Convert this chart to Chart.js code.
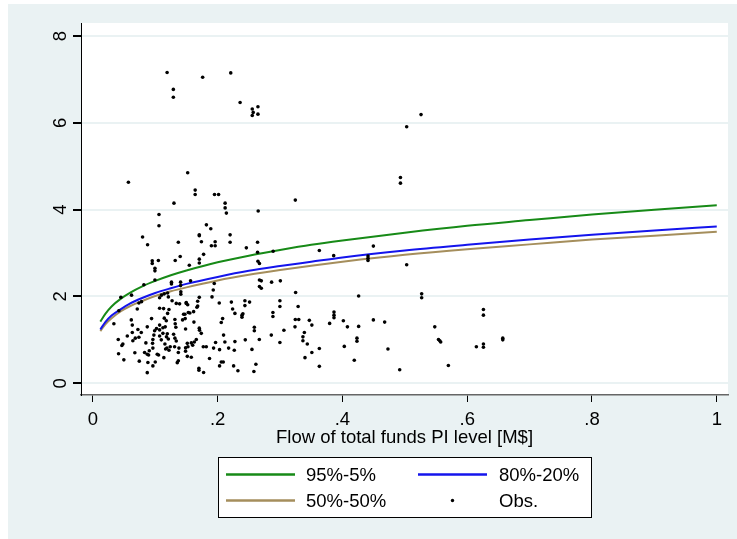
<!DOCTYPE html>
<html>
<head>
<meta charset="utf-8">
<script src="https://cdn.jsdelivr.net/npm/chart.js@4"></script>
<style>
  html, body { margin: 0; padding: 0; background: #fff; }
  #wrap { width: 737px; height: 539px; }
</style>
</head>
<body>
<div id="wrap"><canvas id="chart" width="737" height="539"></canvas></div>
<script>
(function () {
    'use strict';

    // ── Data ─────────────────────────────────────────────────────────
    var curveX = [0.012, 0.02, 0.03, 0.045, 0.06, 0.08, 0.1, 0.125, 0.15, 0.2, 0.25, 0.3, 0.35, 0.4, 0.5, 0.6, 0.7, 0.8, 0.9, 1.0];
    var curve95 = [1.42, 1.60, 1.77, 1.95, 2.09, 2.24, 2.36, 2.49, 2.60, 2.79, 2.94, 3.07, 3.19, 3.29, 3.47, 3.63, 3.76, 3.89, 4.00, 4.10];
    var curve80 = [1.24, 1.41, 1.56, 1.71, 1.84, 1.97, 2.08, 2.19, 2.29, 2.45, 2.59, 2.70, 2.80, 2.90, 3.06, 3.19, 3.31, 3.42, 3.52, 3.61];
    var curve50 = [1.20, 1.36, 1.50, 1.66, 1.78, 1.90, 2.01, 2.12, 2.21, 2.37, 2.50, 2.61, 2.71, 2.80, 2.96, 3.09, 3.20, 3.31, 3.40, 3.49];

    var obsX = [
        0.119, 0.176, 0.221, 0.129, 0.129, 0.236, 0.2555, 0.257, 0.2555, 0.2646, 0.2646,
        0.057, 0.152, 0.164, 0.164, 0.195, 0.2015, 0.130, 0.212, 0.212, 0.214, 0.265, 0.3245,
        0.106, 0.106, 0.182, 0.189,
        0.526, 0.503, 0.493, 0.493, 0.363, 0.386, 0.4496, 0.441, 0.441, 0.441, 0.503, 0.426, 0.527, 0.527,
        0.351, 0.347, 0.351, 0.363, 0.363, 0.3795, 0.3865, 0.3865, 0.3865, 0.4015, 0.408, 0.403, 0.419,
        0.4233, 0.4233, 0.426, 0.4496, 0.4677, 0.473, 0.4918, 0.548, 0.554, 0.556, 0.5575, 0.5698, 0.6147,
        0.626, 0.626, 0.626, 0.626, 0.657, 0.657, 0.339,
        0.0797, 0.0877, 0.137, 0.1706, 0.1706, 0.174, 0.196, 0.196, 0.190, 0.220, 0.220, 0.246, 0.264, 0.264, 0.289,
        0.140, 0.132, 0.0952, 0.0952, 0.105, 0.0995, 0.0995, 0.1546, 0.1706, 0.1706, 0.1775, 0.2646, 0.267,
        0.267, 0.27, 0.267, 0.27, 0.2865, 0.3005, 0.0995, 0.0818, 0.0449, 0.0417, 0.062, 0.0738, 0.078, 0.0712,
        0.0337, 0.0616, 0.0632, 0.0941,
        0.107, 0.110, 0.1145, 0.1198, 0.121, 0.126, 0.126, 0.1406, 0.1406, 0.141, 0.141, 0.1566,
        0.127, 0.1337, 0.139, 0.1497, 0.1497, 0.152, 0.107, 0.1134, 0.122, 0.1454, 0.1475, 0.153, 0.1555, 0.1615,
        0.1706, 0.168, 0.168, 0.1668,
        0.193, 0.1946, 0.191, 0.2026, 0.222, 0.224, 0.2277, 0.239, 0.239, 0.2437, 0.2437, 0.2512, 0.2405,
        0.162, 0.1706, 0.171, 0.1738, 0.1658, 0.1626, 0.1578, 0.160, 0.1514, 0.1524, 0.1578, 0.1486, 0.1486, 0.1514,
        0.138, 0.137, 0.137, 0.1353, 0.131, 0.124, 0.1187, 0.122, 0.1155, 0.1166, 0.1138, 0.1097, 0.107, 0.1123,
        0.1193, 0.118, 0.121, 0.1294, 0.1315, 0.1337, 0.1123, 0.116, 0.107, 0.107, 0.102, 0.099, 0.0978, 0.0962,
        0.0957, 0.0962, 0.1032, 0.1053, 0.100, 0.0962, 0.0882, 0.0872, 0.0893, 0.0904, 0.0872, 0.0744, 0.0829, 0.085,
        0.0872, 0.0776, 0.0722, 0.0738, 0.068, 0.0552, 0.0481, 0.0465, 0.0407, 0.0412, 0.0497, 0.0673, 0.0632, 0.0641,
        0.1145, 0.1177, 0.1198, 0.1315, 0.132, 0.133, 0.1438, 0.148, 0.1486,
        0.1818, 0.177, 0.1935, 0.187, 0.1967, 0.2031, 0.2058, 0.209, 0.2031, 0.2095, 0.208, 0.2058, 0.2116, 0.2176,
        0.2277, 0.2267, 0.2256, 0.2325, 0.2443, 0.255, 0.2588, 0.2588, 0.2668, 0.2613, 0.2581, 0.286, 0.2998,
        0.2886, 0.2886, 0.2998, 0.2998, 0.3062, 0.3245, 0.324, 0.330, 0.325, 0.329, 0.3367, 0.3367, 0.340, 0.3437,
        0.170, 0.170, 0.1775
    ];
    var obsY = [
        7.16, 7.05, 7.15, 6.77, 6.59, 6.47, 6.32, 6.24, 6.17, 6.37, 6.20,
        4.63, 4.85, 4.45, 4.35, 4.35, 4.35, 4.15, 4.15, 4.04, 3.92, 3.97, 4.22,
        3.89, 3.63, 3.65, 3.56,
        6.19, 5.91, 4.74, 4.61, 3.06, 2.94, 3.16, 2.93, 2.88, 2.83, 2.73, 2.01, 2.06, 1.97,
        1.34, 1.45, 0.71, 0.80, 0.39, 1.38, 1.64, 1.57, 1.51, 1.44, 1.30, 0.85, 0.53,
        1.04, 0.97, 1.31, 1.46, 1.41, 0.79, 0.31, 1.30, 1.01, 0.98, 0.95, 0.41, 0.84,
        1.70, 1.57, 0.905, 0.83, 1.04, 1.00, 1.17,
        3.37, 3.19, 3.25, 3.42, 3.40, 3.26, 3.26, 3.17, 3.17, 3.42, 3.25, 3.12, 3.25, 3.02, 3.04,
        2.92, 2.83, 2.82, 2.76, 2.83, 2.65, 2.59, 2.72, 2.86, 2.77, 2.97, 2.81, 2.76,
        2.38, 2.36, 2.23, 2.19, 2.33, 2.36, 2.38, 2.27, 1.98, 1.67, 2.03, 1.85, 1.88, 1.71,
        1.37, 1.46, 1.34, 1.49,
        1.97, 2.03, 2.06, 2.08, 1.99, 2.33, 2.29, 2.33, 2.25, 2.11, 2.05, 2.36,
        1.90, 1.84, 1.83, 1.84, 1.86, 1.81, 1.73, 1.72, 1.70, 1.59, 1.59, 1.63, 1.62, 1.65,
        1.98, 1.89, 1.78, 1.75,
        2.15, 2.30, 1.99, 1.85, 1.87, 1.71, 1.61, 1.57, 1.52, 1.90, 1.79, 1.87, 1.60,
        1.41, 1.27, 1.22, 1.15, 1.01, 0.95, 0.93, 0.875, 0.92, 0.84, 0.60, 0.82, 0.74, 0.62,
        0.81, 0.71, 0.52, 0.475, 0.84, 0.84, 0.81, 0.76, 0.905, 0.79, 0.59, 1.00, 1.09, 1.15,
        1.14, 1.07, 1.02, 1.13, 1.04, 0.975, 1.28, 1.30, 1.34, 1.23, 1.26, 1.21, 1.11, 1.01,
        0.92, 0.81, 0.67, 0.65, 0.49, 0.40, 0.48, 0.67, 0.65, 0.75, 0.245, 0.51, 0.71, 0.93,
        1.30, 1.17, 1.24, 1.06, 1.04, 1.09, 0.905, 0.87, 1.01, 0.68, 0.54, 0.705, 1.17, 0.98,
        1.50, 1.44, 1.61, 1.47, 1.37, 1.29, 1.46, 1.49, 1.25,
        0.84, 0.84, 0.81, 0.57, 0.94, 0.775, 0.49, 0.49, 0.40, 1.11, 1.49, 1.40, 0.95, 0.81,
        0.96, 0.76, 0.40, 0.29, 1.00, 0.78, 1.29, 1.21, 1.01, 0.44, 0.27, 1.11, 0.94,
        1.63, 1.54, 1.90, 1.77, 1.22, 1.47, 1.30, 1.47, 2.09, 1.77, 1.07, 0.98, 0.59, 0.905,
        0.345, 0.30, 0.25
    ];

    var xTicks = [0, 0.2, 0.4, 0.6, 0.8, 1];
    var xTickLabels = ['0', '.2', '.4', '.6', '.8', '1'];
    var yTicks = [0, 2, 4, 6, 8];
    var yTickLabels = ['0', '2', '4', '6', '8'];
    var xTitle = 'Flow of total funds PI level [M$]';
    var seriesLabels = ['95%-5%', '80%-20%', '50%-50%', 'Obs.'];
    var seriesColors = ['#178a17', '#1414ec', '#a58e5c', '#000000'];

    var FONT = '18.5px "Liberation Sans", Arial, sans-serif';

    // ── Helpers ──────────────────────────────────────────────────────
    function pairs(xs, ys) {
        return xs.map(function (x, i) { return { x: x, y: ys[i] }; });
    }

    function lineSet(label, ys, color) {
        return {
            type: 'line',
            label: label,
            data: pairs(curveX, ys),
            borderColor: color,
            backgroundColor: color,
            borderWidth: 2,
            pointRadius: 0,
            cubicInterpolationMode: 'monotone',
            fill: false,
            order: 1
        };
    }

    // ── Custom drawing: background, tick labels, title, legend ───────
    var stataLook = {
        id: 'stataLook',
        beforeDraw: function (chart) {
            var ctx = chart.ctx, a = chart.chartArea;
            ctx.save();
            ctx.fillStyle = '#ffffff';
            ctx.fillRect(0, 0, chart.width, chart.height);
            ctx.fillStyle = '#eaf2f3';
            ctx.fillRect(8, 4, chart.width - 8, chart.height - 4);
            ctx.fillStyle = '#ffffff';
            ctx.fillRect(a.left, a.top, a.right - a.left, a.bottom - a.top);
            ctx.restore();
        },
        afterDraw: function (chart) {
            var ctx = chart.ctx, a = chart.chartArea;
            var xs = chart.scales.x, ys = chart.scales.y;
            ctx.save();
            ctx.fillStyle = '#000';
            ctx.font = FONT;

            // x tick labels
            ctx.textAlign = 'center';
            ctx.textBaseline = 'alphabetic';
            xTicks.forEach(function (v, i) {
                ctx.fillText(xTickLabels[i], xs.getPixelForValue(v), 424.5);
            });

            // x title
            ctx.fillText(xTitle, (a.left + a.right) / 2, 442.5);

            // y tick labels, rotated
            yTicks.forEach(function (v, i) {
                ctx.save();
                ctx.translate(61, ys.getPixelForValue(v));
                ctx.rotate(-Math.PI / 2);
                ctx.textAlign = 'center';
                ctx.textBaseline = 'middle';
                ctx.fillText(yTickLabels[i], 0, 0);
                ctx.restore();
            });

            // legend box
            ctx.fillStyle = '#ffffff';
            ctx.fillRect(218, 457, 373, 60);
            ctx.strokeStyle = '#000';
            ctx.lineWidth = 1;
            ctx.strokeRect(218.5, 457.5, 373, 60);

            var rows = [474.5, 500.5];
            var cols = [{ l0: 226, l1: 295, t: 306 }, { l0: 418, l1: 487, t: 499 }];
            ctx.textAlign = 'left';
            ctx.textBaseline = 'middle';
            seriesLabels.forEach(function (lab, i) {
                var r = rows[Math.floor(i / 2)], c = cols[i % 2];
                if (i < 3) {
                    ctx.strokeStyle = seriesColors[i];
                    ctx.lineWidth = 2.5;
                    ctx.beginPath();
                    ctx.moveTo(c.l0, r);
                    ctx.lineTo(c.l1, r);
                    ctx.stroke();
                } else {
                    ctx.fillStyle = seriesColors[i];
                    ctx.beginPath();
                    ctx.arc((c.l0 + c.l1) / 2, r, 1.7, 0, Math.PI * 2);
                    ctx.fill();
                }
                ctx.fillStyle = '#000';
                ctx.fillText(lab, c.t, r + 1);
            });
            ctx.restore();
        }
    };

    // ── Chart ────────────────────────────────────────────────────────
    new Chart(document.getElementById('chart'), {
        type: 'scatter',
        data: {
            datasets: [
                {
                    type: 'scatter',
                    label: seriesLabels[3],
                    data: pairs(obsX, obsY),
                    backgroundColor: '#000',
                    borderColor: '#000',
                    pointRadius: 1.8,
                    pointBorderWidth: 0,
                    order: 0
                },
                lineSet(seriesLabels[0], curve95, seriesColors[0]),
                lineSet(seriesLabels[1], curve80, seriesColors[1]),
                lineSet(seriesLabels[2], curve50, seriesColors[2])
            ]
        },
        options: {
            responsive: false,
            animation: false,
            events: [],
            layout: { padding: { top: 23, right: 9, left: 0, bottom: 0 } },
            plugins: {
                legend: { display: false },
                tooltip: { enabled: false }
            },
            scales: {
                x: {
                    type: 'linear',
                    min: -0.019,
                    max: 1.018,
                    afterBuildTicks: function (s) { s.ticks = xTicks.map(function (v) { return { value: v }; }); },
                    afterFit: function (s) { s.height = 144; },
                    ticks: { callback: function () { return ''; } },
                    grid: { drawOnChartArea: false, tickColor: '#000', tickLength: 7, lineWidth: 1 },
                    border: { display: true, color: '#666', width: 1.5 }
                },
                y: {
                    type: 'linear',
                    min: -0.27,
                    max: 8.3,
                    afterBuildTicks: function (s) { s.ticks = yTicks.map(function (v) { return { value: v }; }); },
                    afterFit: function (s) { s.width = 81; },
                    ticks: { callback: function () { return ''; } },
                    grid: { color: '#eaf2f3', lineWidth: 2, tickColor: '#000', tickLength: 8 },
                    border: { display: true, color: '#000', width: 1 }
                }
            }
        },
        plugins: [stataLook]
    });
})();
</script>
</body>
</html>
